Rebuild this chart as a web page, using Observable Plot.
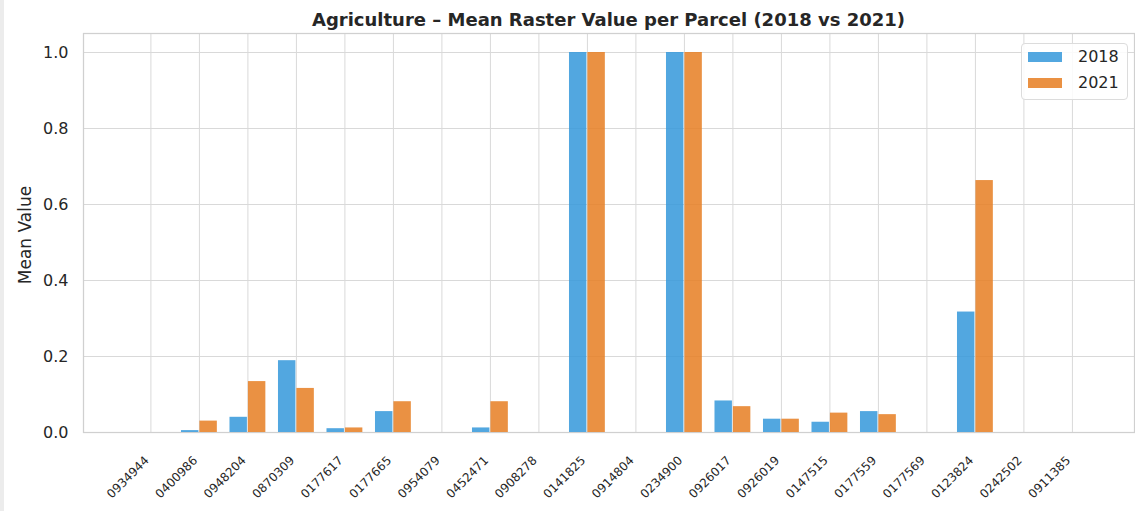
<!DOCTYPE html>
<html><head><meta charset="utf-8">
<script src="https://cdn.jsdelivr.net/npm/d3@7"></script>
<script src="https://cdn.jsdelivr.net/npm/@observablehq/plot@0.6"></script>
<style>
html,body{margin:0;padding:0;background:#fff;}
#wrap{position:relative;width:1135px;height:511px;overflow:hidden;font-family:"DejaVu Sans",sans-serif;color:#262626;}
#strip{position:absolute;left:0;top:0;width:4px;height:511px;background:#ececec;}
#title{position:absolute;left:83px;width:1051px;top:11px;text-align:center;font-weight:bold;font-size:18px;line-height:18px;white-space:nowrap;}
#ylabel{position:absolute;left:25px;top:235px;font-size:17px;line-height:17px;white-space:nowrap;transform:translate(-50%,-50%) rotate(-90deg);}
#legend{position:absolute;left:1021px;top:43px;width:105px;height:55px;border:1px solid #dcdcdc;border-radius:4px;background:rgba(255,255,255,0.85);}
.item{position:absolute;left:6px;height:20px;}
.sw{position:absolute;left:0;width:34px;height:10px;}
.lab{position:absolute;left:50px;font-size:16px;line-height:20px;top:-5px;}
</style></head><body>
<div id="wrap"><div id="chart"></div><div id="strip"></div><div id="title"></div><div id="ylabel"></div><div id="legend"></div></div>
<script>
const parcels = ["0934944","0400986","0948204","0870309","0177617","0177665","0954079","0452471","0908278","0141825","0914804","0234900","0926017","0926019","0147515","0177559","0177569","0123824","0242502","0911385"];
const values2018 = [0, 0.005, 0.040, 0.189, 0.010, 0.055, 0, 0.012, 0, 1.0, 0, 1.0, 0.083, 0.035, 0.027, 0.055, 0, 0.317, 0, 0];
const values2021 = [0, 0.030, 0.134, 0.116, 0.012, 0.081, 0, 0.081, 0, 1.0, 0, 1.0, 0.068, 0.035, 0.051, 0.047, 0, 0.663, 0, 0];
const years = ["2018", "2021"];
const colors = ["#3498db", "#e67e22"];
const yTicks = [0, 0.2, 0.4, 0.6, 0.8, 1.0];
const titleText = "Agriculture \u2013 Mean Raster Value per Parcel (2018 vs 2021)";
const yLabel = "Mean Value";
const barWidth = 0.38;

const rows = parcels.flatMap((p, i) => [
  {parcel: p, i, year: years[0], value: values2018[i]},
  {parcel: p, i, year: years[1], value: values2021[i]}
]);
const idx = d3.range(parcels.length);
const gridColor = "#d9d9d9";

const chart = Plot.plot({
  width: 1135,
  height: 511,
  marginLeft: 83,
  marginRight: 1,
  marginTop: 33,
  marginBottom: 79,
  style: {fontFamily: "DejaVu Sans, sans-serif", color: "#262626", background: "transparent"},
  x: {type: "linear", domain: [-1.39, 20.28]},
  y: {domain: [0, 1.05]},
  color: {domain: years, range: colors},
  marks: [
    Plot.gridX({ticks: idx, stroke: gridColor, strokeOpacity: 1, strokeWidth: 1}),
    Plot.gridY({ticks: yTicks, stroke: gridColor, strokeOpacity: 1, strokeWidth: 1}),
    Plot.frame({stroke: "#d0d0d0", strokeWidth: 1.25}),
    Plot.rect(rows, {
      x1: d => d.year === years[0] ? d.i - barWidth : d.i,
      x2: d => d.year === years[0] ? d.i : d.i + barWidth,
      y1: 0,
      y2: "value",
      fill: "year",
      fillOpacity: 0.85,
      insetLeft: 0.5,
      insetRight: 0.5
    }),
    Plot.axisY({ticks: yTicks, tickFormat: d3.format(".1f"), tickSize: 0, tickPadding: 15, fontSize: 16, label: null}),
    Plot.axisX({ticks: idx, tickFormat: i => parcels[i], tickRotate: -45, tickSize: 0, tickPadding: 26, dx: -4,
      fontSize: 12, label: null, textAnchor: "end", lineAnchor: "middle"})
  ]
});
document.getElementById("chart").appendChild(chart);
document.getElementById("title").textContent = titleText;
document.getElementById("ylabel").textContent = yLabel;
const leg = document.getElementById("legend");
years.forEach((y, k) => {
  const it = document.createElement("div");
  it.className = "item";
  it.style.top = (8 + k * 26) + "px";
  const sw = document.createElement("div");
  sw.className = "sw";
  sw.style.background = colors[k];
  sw.style.opacity = 0.85;
  const lb = document.createElement("div");
  lb.className = "lab";
  lb.textContent = y;
  it.appendChild(sw); it.appendChild(lb);
  leg.appendChild(it);
});
</script>
</body></html>
